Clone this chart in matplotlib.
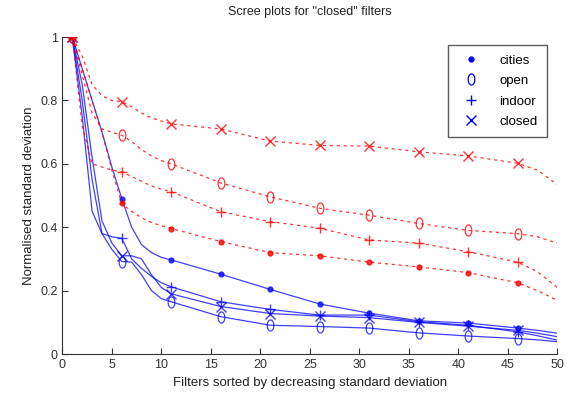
import numpy as np
import matplotlib
matplotlib.use("Agg")
import matplotlib.pyplot as plt
from matplotlib.lines import Line2D

plt.rcParams["font.family"] = ["Liberation Sans Narrow", "Liberation Sans", "DejaVu Sans"]

x = [1, 2, 3, 4, 5, 6, 7, 8, 9, 10, 11, 16, 21, 26, 31, 36, 41, 46, 48, 50]
marker_x = [1, 6, 11, 16, 21, 26, 31, 36, 41, 46]

# blue solid curves
blue_cities = [1.0, 0.90, 0.80, 0.70, 0.59, 0.49, 0.40, 0.345, 0.32, 0.305, 0.297,
               0.252, 0.204, 0.158, 0.129, 0.105, 0.098, 0.082, 0.075, 0.066]
blue_open = [1.0, 0.80, 0.55, 0.38, 0.33, 0.292, 0.29, 0.25, 0.20, 0.175, 0.165,
             0.118, 0.091, 0.087, 0.082, 0.067, 0.057, 0.049, 0.045, 0.039]
blue_indoor = [1.0, 0.75, 0.45, 0.38, 0.37, 0.365, 0.30, 0.27, 0.245, 0.225, 0.212,
               0.165, 0.141, 0.123, 0.123, 0.102, 0.091, 0.070, 0.058, 0.044]
blue_closed = [1.0, 0.85, 0.62, 0.42, 0.35, 0.31, 0.31, 0.30, 0.25, 0.21, 0.19,
               0.15, 0.128, 0.12, 0.115, 0.10, 0.088, 0.075, 0.066, 0.055]

# red dashed curves
red_cities = [1.0, 0.90, 0.80, 0.70, 0.58, 0.475, 0.45, 0.43, 0.415, 0.405, 0.396,
              0.355, 0.32, 0.31, 0.29, 0.275, 0.257, 0.225, 0.20, 0.17]
red_open = [1.0, 0.88, 0.76, 0.71, 0.70, 0.69, 0.67, 0.645, 0.625, 0.61, 0.60,
            0.54, 0.496, 0.46, 0.438, 0.412, 0.39, 0.38, 0.37, 0.35]
red_indoor = [1.0, 0.72, 0.60, 0.59, 0.58, 0.575, 0.56, 0.545, 0.53, 0.52, 0.512,
              0.449, 0.418, 0.397, 0.36, 0.35, 0.323, 0.29, 0.26, 0.21]
red_closed = [1.0, 0.94, 0.85, 0.815, 0.80, 0.796, 0.78, 0.76, 0.745, 0.735, 0.726,
              0.71, 0.672, 0.658, 0.656, 0.638, 0.625, 0.602, 0.58, 0.535]

labels = ["cities", "open", "indoor", "closed"]

# tall "0"-like circle, as in the old matlab export
t = np.linspace(0, 2 * np.pi, 40)
oval = list(zip(0.6 * np.cos(t), np.sin(t)))
markers = [".", oval, "+", "x"]

mark_idx = [x.index(v) for v in marker_x]


def style(m, col):
    if m == ".":
        return dict(marker="o", ms=3.5, mfc=col, mec=col)
    if m is oval:
        return dict(marker=m, ms=8, mfc="none", mec=col, mew=0.9)
    return dict(marker=m, ms=6.5, mec=col, mew=1.0)


fig = plt.figure(figsize=(5.78, 4.07), dpi=100)
ax = fig.add_axes([0.108, 0.130, 0.856, 0.779])

for ys, m in zip([blue_cities, blue_open, blue_indoor, blue_closed], markers):
    ax.plot(x, ys, color="blue", lw=0.9, alpha=0.75, markevery=mark_idx, **style(m, "blue"))

for ys, m in zip([red_cities, red_open, red_indoor, red_closed], markers):
    ax.plot(x, ys, color="red", lw=0.9, ls=(0, (2.5, 3)), alpha=0.8,
            markevery=mark_idx, **style(m, "red"))

ax.set_xlim(0, 50)
ax.set_ylim(0, 1)
ax.set_xticks(range(0, 51, 5))
ax.set_yticks([0, 0.2, 0.4, 0.6, 0.8, 1])
ax.set_yticklabels(["0", "0.2", "0.4", "0.6", "0.8", "1"])
ax.tick_params(direction="in", length=4, labelsize=9, colors="#333333")
for side in ["top", "right"]:
    ax.spines[side].set_visible(False)
for side in ["left", "bottom"]:
    ax.spines[side].set_color("#333333")

ax.set_title('Scree plots for "closed" filters', fontsize=9, color="#222222", pad=16)
ax.set_xlabel("Filters sorted by decreasing standard deviation", fontsize=9.5, color="#222222")
ax.set_ylabel("Normalised standard deviation", fontsize=9.5, color="#222222")

handles = [Line2D([], [], color="blue", ls="none", **style(m, "blue")) for m in markers]
leg = ax.legend(handles, labels, loc="upper right", bbox_to_anchor=(0.992, 0.995),
                fontsize=9.5, frameon=True, fancybox=False, handlelength=2.2,
                borderpad=0.7, labelspacing=0.62, handletextpad=1.0)
leg.get_frame().set_edgecolor("#333333")
leg.get_frame().set_linewidth(1.0)

fig.savefig("out.png", dpi=100)
